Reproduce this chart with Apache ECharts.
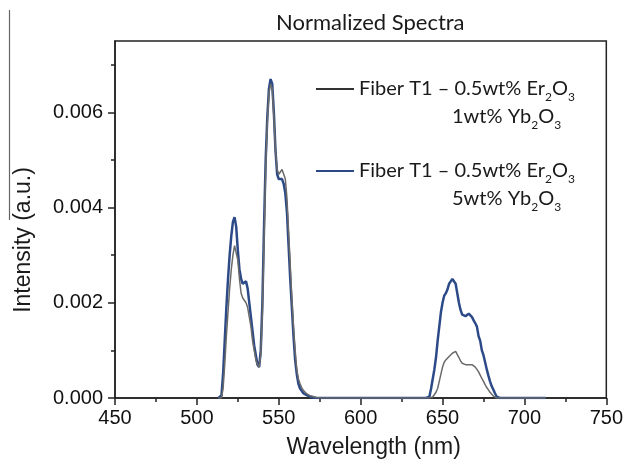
<!DOCTYPE html>
<html>
<head>
<meta charset="utf-8">
<script src="https://cdn.jsdelivr.net/npm/echarts@6/dist/echarts.min.js"></script>
<style>html,body{margin:0;padding:0;background:#fff;}#c{width:626px;height:464px;}</style>
</head>
<body>
<div id="c"></div>
<script>
// Wavelength grid (nm)
var wavelengths = [
  513,514,515,516,517,518,519,520,521,522,523,524,525,526,527,528,529,530,531,532,533,534,535,536,537,538,539,540,
  541,542,543,544,545,546,547,548,549,550,551,552,553,554,555,556,557,558,559,560,561,562,563,564,565,566,567,568,
  569,570,571,572,573,574,575,
  580,600,620,635,
  640,641,642,643,644,645,646,647,648,649,650,651,652,653,654,655,656,657,658,659,660,661,662,663,664,665,666,667,
  668,669,670,671,672,673,674,675,676,677,678,679,680,681,682,683,684,685,
  700,713
];
// Fiber T1 – 0.5wt% Er2O3, 5wt% Yb2O3 (blue)
var fiber5 = [
  0,0,0.00005,0.0005,0.0012,0.0019,0.0025,0.0030,0.0034,0.0037,0.0038,0.0036,0.0031,0.0027,0.0025,0.0024,0.0024,0.00245,
  0.0023,0.0020,0.0017,0.0014,0.0011,0.0009,0.0007,0.00065,0.0010,0.0020,
  0.0036,0.0050,0.0059,0.0065,0.0067,0.0066,0.0060,0.0052,0.0047,0.0046,0.0046,0.0046,0.0045,0.0043,0.0039,0.0032,
  0.0025,0.0019,0.0013,0.0008,0.0005,0.0003,0.0002,0.00015,0.0001,0.00008,0.00006,0.00004,
  0.00003,0.00002,0.00001,0.00001,0,0,0,
  0,0,0,0,
  0,0,0.00003,0.0002,0.0004,0.0006,0.00085,0.0012,0.0015,0.0018,0.0020,0.00215,0.0022,0.00228,0.0024,0.00245,0.0025,0.00252,
  0.0024,0.0022,0.0020,0.00185,0.00175,0.00172,0.00172,0.00175,0.00177,0.00176,
  0.0017,0.00163,0.00157,0.0015,0.0013,0.0012,0.0010,0.0009,0.00075,0.0006,0.00047,0.00035,0.00025,0.00018,0.0001,0.00003,0,0,
  0,0
];
// Fiber T1 – 0.5wt% Er2O3, 1wt% Yb2O3 (gray)
var fiber1 = [
  0,0,0,0.0002,0.0007,0.0013,0.0018,0.0023,0.0027,0.0030,0.0032,0.0032,0.0029,0.0025,0.0022,0.0021,0.0021,0.0020,
  0.0019,0.0017,0.0015,0.0012,0.0010,0.0008,0.0007,0.00065,0.0009,0.0018,
  0.0033,0.0048,0.0058,0.0064,0.0066,0.0065,0.0059,0.0052,0.0048,0.0047,0.0047,0.0048,0.0048,0.0046,0.0042,0.0035,
  0.0028,0.0021,0.0015,0.0010,0.0006,0.0004,0.0003,0.00022,0.00016,0.00012,0.00009,0.00007,
  0.00005,0.00004,0.00003,0.00002,0.00001,0,0,
  0,0,0,0,
  0,0,0,0,0.00002,0.00005,0.00012,0.0002,0.00035,0.0005,0.00065,0.00075,0.0008,0.00083,0.00087,0.0009,0.00094,0.00097,
  0.00098,0.00094,0.00085,0.00078,0.00073,0.0007,0.0007,0.0007,0.0007,0.00071,
  0.0007,0.00069,0.00065,0.0006,0.00055,0.00048,0.00041,0.00035,0.00028,0.00022,0.00017,0.00012,0.00008,0.00004,0.00002,0,0,0,
  0,0
];
var yTicks = [0, 0.002, 0.004, 0.006];
var yMinorTicks = [0.001, 0.003, 0.005, 0.007];

function pairs(xs, ys){ var out=[]; for (var i=0;i<xs.length;i++) out.push([xs[i], ys[i]]); return out; }

var legendRich = {
  a: {fontFamily: 'Lato', fontSize: 20, color: '#1a1a1a', lineHeight: 28},
  s: {fontFamily: 'Lato', fontSize: 12, color: '#1a1a1a', lineHeight: 28, verticalAlign: 'bottom'},
  p: {fontFamily: 'Lato', fontSize: 20, lineHeight: 28, width: 93}
};
var name1 = 'Fiber T1 – 0.5wt% Er2O3 / 1wt% Yb2O3';
var name5 = 'Fiber T1 – 0.5wt% Er2O3 / 5wt% Yb2O3';

var chart = echarts.init(document.getElementById('c'), null, {renderer: 'canvas'});
chart.setOption({
  animation: false,
  backgroundColor: '#ffffff',
  title: {
    text: 'Normalized Spectra', left: 276, top: 12, padding: 0,
    textStyle: {fontFamily: 'Lato', fontSize: 22, fontWeight: 'normal', color: '#1a1a1a'}
  },
  grid: {left: 115, right: 19, top: 41, bottom: 62, show: true, borderColor: '#222', borderWidth: 1.5, backgroundColor: 'transparent'},
  legend: {
    show: true,
    orient: 'vertical', left: 316, top: 47, padding: 0, itemGap: -2,
    itemWidth: 38, itemHeight: 2, icon: 'rect',
    data: [
      {name: name1, itemStyle: {color: '#333'}},
      {name: name5, itemStyle: {color: '#2c4a87'}}
    ],
    formatter: function (n) {
      var yb = n === name1 ? '1' : '5';
      return '{a| }\n{a|Fiber T1 – 0.5wt% Er}{s|2}{a|O}{s|3}\n{p| }{a|' + yb + 'wt% Yb}{s|2}{a|O}{s|3}';
    },
    textStyle: {fontFamily: 'Lato', fontSize: 20, lineHeight: 28, color: '#1a1a1a', rich: legendRich}
  },
  xAxis: {
    type: 'value', min: 450, max: 750, interval: 50,
    name: 'Wavelength (nm)', nameLocation: 'middle', nameGap: 38,
    nameTextStyle: {fontFamily: 'Liberation Sans', fontSize: 23, color: '#1a1a1a', padding: [0, 0, 0, 26]},
    axisLine: {show: true, lineStyle: {color: '#222', width: 1.5}},
    axisTick: {show: true, length: 7, lineStyle: {color: '#222', width: 1.5}},
    minorTick: {show: true, splitNumber: 2, length: 4, lineStyle: {color: '#222', width: 1.5}},
    axisLabel: {fontFamily: 'Liberation Sans', fontSize: 20, color: '#111', margin: 10},
    splitLine: {show: false}
  },
  yAxis: [{
    type: 'value', min: 0, max: 0.0075,
    name: 'Intensity (a.u.)', nameLocation: 'middle', nameGap: 80,
    nameTextStyle: {fontFamily: 'Liberation Sans', fontSize: 23, color: '#1a1a1a', padding: [0, 41, 0, 0]},
    axisLine: {show: true, lineStyle: {color: '#222', width: 1.5}},
    axisTick: {show: true, length: 7, customValues: yTicks, lineStyle: {color: '#222', width: 1.5}},
    axisLabel: {fontFamily: 'Liberation Sans', fontSize: 20, color: '#111', margin: 12, customValues: yTicks,
      formatter: function (v) { return v.toFixed(3); }},
    splitLine: {show: false}
  }, {
    type: 'value', min: 0, max: 0.0075, position: 'left',
    axisLine: {show: false},
    axisTick: {show: true, length: 4, customValues: yMinorTicks, lineStyle: {color: '#222', width: 1.5}},
    axisLabel: {show: false},
    splitLine: {show: false}
  }],
  graphic: [{
    type: 'line', shape: {x1: 9.5, y1: 10, x2: 9.5, y2: 220},
    style: {stroke: '#666', lineWidth: 1.2}, silent: true
  }],
  series: [
    {name: name5, type: 'line', yAxisIndex: 0, showSymbol: false, data: pairs(wavelengths, fiber5),
      lineStyle: {color: '#2c4a87', width: 2.5}, itemStyle: {color: '#2c4a87'}, z: 2},
    {name: name1, type: 'line', yAxisIndex: 0, showSymbol: false, data: pairs(wavelengths, fiber1),
      lineStyle: {color: '#6a6a6a', width: 1.5}, itemStyle: {color: '#6a6a6a'}, z: 3}
  ]
});
</script>
</body>
</html>
